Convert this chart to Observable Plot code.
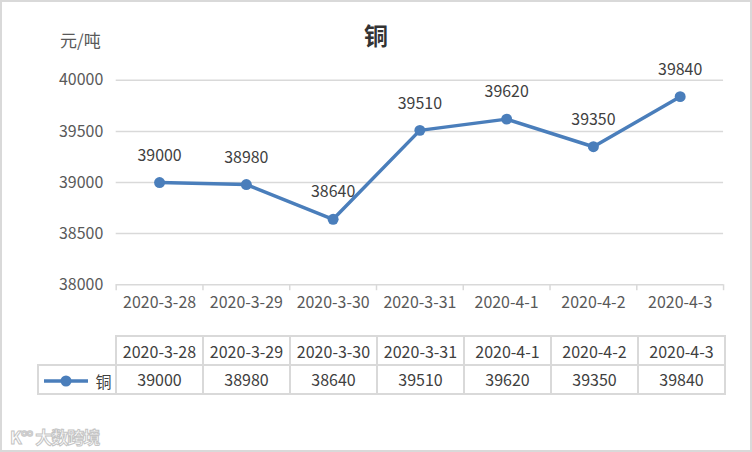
<!DOCTYPE html>
<html>
<head>
<meta charset="utf-8">
<script src="https://cdn.jsdelivr.net/npm/d3@7"></script>
<script src="https://cdn.jsdelivr.net/npm/@observablehq/plot@0.6"></script>
<style>
  html, body { margin: 0; padding: 0; background: #fff; }
  #wrap {
    position: relative; width: 752px; height: 452px; box-sizing: border-box;
    border: 2px solid #d9d9d9; background: #fff; overflow: hidden;
    font-family: "Microsoft YaHei", "Noto Sans CJK SC", "Noto Sans", sans-serif;
  }
  #chart { position: absolute; left: -2px; top: -2px; }
  #title { position: absolute; left: -2px; width: 752px; top: 15px; text-align: center;
    font-size: 24px; font-weight: bold; color: #333; }
  #unit { position: absolute; left: 58px; top: 25px; font-size: 17px; color: #595959; }
  #tbl { position: absolute; left: 35px; top: 333px; border-collapse: collapse;
    font-size: 16px; color: #404040; }
  #tbl td { border: 2px solid #d9d9d9; text-align: center; padding: 0; }
  #tbl tr.h td { height: 27px; }
  #tbl tr.d td { height: 26px; }
  #tbl td.blank { border-top: none; border-left: none; }
  #wm { position: absolute; left: 8px; top: 422px; font-size: 17px; font-weight: bold;
    color: #fff; -webkit-text-stroke: 1px #c4c4c4; letter-spacing: -1px; }
</style>
</head>
<body>
<div id="wrap">
  <div id="chart"></div>
  <div id="title"></div>
  <div id="unit"></div>
  <table id="tbl"></table>
  <div id="wm"></div>
</div>
<script>
const dates = ["2020-3-28", "2020-3-29", "2020-3-30", "2020-3-31", "2020-4-1", "2020-4-2", "2020-4-3"];
const values = [39000, 38980, 38640, 39510, 39620, 39350, 39840];
const yTicks = [38000, 38500, 39000, 39500, 40000];
const seriesName = "铜";
const unitLabel = "元/吨";
const watermark = "K°° 大数跨境";
const lineColor = "#4a7ebb";

const data = dates.map((d, i) => ({i, date: d, value: values[i]}));
const edges = d3.range(dates.length + 1).map(k => k - 0.5);

const fontFamily = '"Microsoft YaHei", "Noto Sans CJK SC", "Noto Sans", sans-serif';

const chart = Plot.plot({
  width: 752,
  height: 330,
  marginTop: 80,
  marginBottom: 45,
  marginLeft: 116,
  marginRight: 27,
  style: {fontFamily, fontSize: "16px", color: "#595959", background: "transparent", overflow: "visible"},
  x: {domain: [-0.5, dates.length - 0.5], ticks: edges, tickSize: 6, tickFormat: () => "", label: null},
  y: {domain: [38000, 40000], ticks: yTicks, tickSize: 0, tickPadding: 13, tickFormat: d3.format("d"), label: null},
  marks: [
    Plot.ruleY(yTicks, {stroke: "#d9d9d9", strokeWidth: 1.5}),
    Plot.text(data, {x: "i", frameAnchor: "bottom", dy: 23, text: "date", fill: "#595959", fontSize: 16}),
    Plot.line(data, {x: "i", y: "value", stroke: lineColor, strokeWidth: 3.5}),
    Plot.dot(data, {x: "i", y: "value", r: 5.5, fill: lineColor, stroke: null}),
    Plot.text(data, {x: "i", y: "value", text: d => String(d.value), dy: -27, fill: "#404040", fontSize: 16})
  ]
});
d3.select(chart).selectAll("[aria-label='x-axis'] line, [aria-label='x-axis tick'] path").attr("stroke", "#d9d9d9").attr("stroke-width", 1.5);
document.getElementById("chart").appendChild(chart);

document.getElementById("title").textContent = seriesName;
document.getElementById("unit").textContent = unitLabel;
document.getElementById("wm").textContent = watermark;

const tbl = d3.select("#tbl");
const colW = 87;
const hr = tbl.append("tr").attr("class", "h");
hr.append("td").attr("class", "blank").style("width", "77px");
dates.forEach(d => hr.append("td").style("width", (colW - 2) + "px").text(d));
const dr = tbl.append("tr").attr("class", "d");
const lc = dr.append("td");
lc.html(`<svg width="48" height="12" style="vertical-align:middle"><line x1="2" y1="6" x2="46" y2="6" stroke="${lineColor}" stroke-width="3.5"/><circle cx="24" cy="6" r="5.5" fill="${lineColor}"/></svg><span style="margin-left:5px;vertical-align:middle">${seriesName}</span>`);
values.forEach(v => dr.append("td").text(v));
</script>
</body>
</html>
